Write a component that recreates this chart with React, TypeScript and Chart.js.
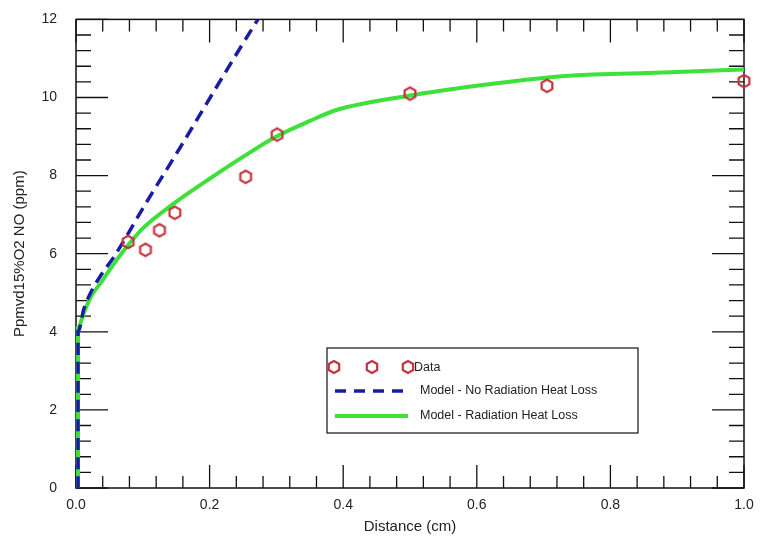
import React, { useEffect, useRef } from "react";
import { Chart, registerables } from "chart.js";
Chart.register(...registerables);

const dataX = [0.078, 0.104, 0.125, 0.148, 0.254, 0.301, 0.5, 0.705, 1.0];
const dataY = [6.3, 6.1, 6.6, 7.05, 7.97, 9.05, 10.1, 10.3, 10.42];

const radX = [0.003, 0.003, 0.011, 0.021, 0.041, 0.055, 0.078, 0.1, 0.146, 0.2, 0.25, 0.3, 0.35, 0.39, 0.5, 0.6, 0.7, 0.75, 0.8, 0.9, 1.0];
const radY = [0, 4.1, 4.45, 4.85, 5.35, 5.7, 6.22, 6.65, 7.28, 7.92, 8.48, 9.0, 9.4, 9.68, 10.05, 10.3, 10.5, 10.57, 10.6, 10.65, 10.72];

const noRadX = [0.003, 0.003, 0.006, 0.011, 0.021, 0.0385, 0.056, 0.106, 0.156, 0.221, 0.2705, 0.28];
const noRadY = [0, 4.0, 4.12, 4.54, 4.97, 5.48, 5.9, 7.33, 8.72, 10.57, 11.95, 12.2];

const xTicks = [0, 0.2, 0.4, 0.6, 0.8, 1.0];
const yTicks = [0, 2, 4, 6, 8, 10, 12];

const legendLabels = ["Data", "Model - No Radiation Heat Loss", "Model - Radiation Heat Loss"];

const RED = "#c2353c";
const BLUE = "#1a1aa6";
const GREEN = "#3ee03a";
const FONT = "'Liberation Sans', Arial, sans-serif";

function makeHex(): HTMLCanvasElement {
  const c = document.createElement("canvas");
  c.width = 18;
  c.height = 18;
  const g = c.getContext("2d")!;
  drawHex(g, 9, 9, 6.2);
  return c;
}

function drawHex(g: CanvasRenderingContext2D, cx: number, cy: number, r: number) {
  g.save();
  g.beginPath();
  for (let i = 0; i < 6; i++) {
    const a = (Math.PI / 3) * i + Math.PI / 2;
    const px = cx + r * Math.cos(a);
    const py = cy + r * Math.sin(a);
    if (i === 0) g.moveTo(px, py);
    else g.lineTo(px, py);
  }
  g.closePath();
  g.strokeStyle = RED;
  g.lineWidth = 2.2;
  g.stroke();
  g.restore();
}

const framePlugin = {
  id: "frameTicks",
  beforeDatasetsDraw(chart: any) {
    const { ctx, chartArea: a, scales } = chart;
    const xs = scales.x;
    const ys = scales.y;
    ctx.save();
    ctx.strokeStyle = "#111";
    ctx.lineWidth = 1.5;
    ctx.strokeRect(a.left, a.top, a.right - a.left, a.bottom - a.top);
    ctx.lineWidth = 1.3;
    ctx.beginPath();
    for (let i = 0; i <= 25; i++) {
      const v = i * 0.04;
      const major = i % 5 === 0;
      const px = xs.getPixelForValue(v);
      const len = major ? 23 : 12;
      ctx.moveTo(px, a.bottom);
      ctx.lineTo(px, a.bottom - len);
      ctx.moveTo(px, a.top);
      ctx.lineTo(px, a.top + len);
    }
    for (let i = 0; i <= 30; i++) {
      const v = i * 0.4;
      const major = i % 5 === 0;
      const py = ys.getPixelForValue(v);
      const len = major ? 32 : 15;
      ctx.moveTo(a.left, py);
      ctx.lineTo(a.left + len, py);
      ctx.moveTo(a.right, py);
      ctx.lineTo(a.right - len, py);
    }
    ctx.stroke();
    ctx.restore();
  },
  afterDraw(chart: any) {
    const { ctx } = chart;
    ctx.save();
    const bx = 327, by = 348, bw = 311, bh = 85;
    ctx.fillStyle = "#fff";
    ctx.fillRect(bx, by, bw, bh);
    ctx.strokeStyle = "#111";
    ctx.lineWidth = 1.2;
    ctx.strokeRect(bx, by, bw, bh);
    drawHex(ctx, 334, 367, 6);
    drawHex(ctx, 372, 367, 6);
    drawHex(ctx, 408, 367, 6);
    ctx.font = "12.5px " + FONT;
    ctx.fillStyle = "#222";
    ctx.textBaseline = "middle";
    ctx.fillText(legendLabels[0], 414, 368);
    ctx.strokeStyle = BLUE;
    ctx.lineWidth = 3.5;
    ctx.setLineDash([11, 8]);
    ctx.beginPath();
    ctx.moveTo(335, 391);
    ctx.lineTo(407, 391);
    ctx.stroke();
    ctx.setLineDash([]);
    ctx.fillText(legendLabels[1], 420, 391);
    ctx.strokeStyle = GREEN;
    ctx.lineWidth = 4;
    ctx.beginPath();
    ctx.moveTo(335, 416);
    ctx.lineTo(408, 416);
    ctx.stroke();
    ctx.fillText(legendLabels[2], 420, 416);
    ctx.restore();
  },
};

export default function App() {
  const ref = useRef<HTMLCanvasElement | null>(null);
  useEffect(() => {
    if (!ref.current) return;
    const hex = makeHex();
    const chart = new Chart(ref.current, {
      type: "scatter",
      data: {
        datasets: [
          {
            label: legendLabels[0],
            data: dataX.map((x, i) => ({ x, y: dataY[i] })),
            pointStyle: hex as any,
            showLine: false,
            clip: false as any,
          },
          {
            label: legendLabels[1],
            data: noRadX.map((x, i) => ({ x, y: noRadY[i] })),
            showLine: true,
            borderColor: BLUE,
            borderWidth: 3.5,
            borderDash: [12, 7],
            pointRadius: 0,
            cubicInterpolationMode: "monotone",
            clip: { left: 6, top: 0, right: 0, bottom: 4 } as any,
          },
          {
            label: legendLabels[2],
            data: radX.map((x, i) => ({ x, y: radY[i] })),
            showLine: true,
            borderColor: GREEN,
            borderWidth: 4,
            pointRadius: 0,
            cubicInterpolationMode: "monotone",
            clip: { left: 6, top: 0, right: 6, bottom: 4 } as any,
          },
        ],
      },
      options: {
        animation: false,
        responsive: true,
        maintainAspectRatio: false,
        layout: { padding: { top: 18, right: 16, left: 0, bottom: 0 } },
        plugins: { legend: { display: false }, tooltip: { enabled: false } },
        scales: {
          x: {
            type: "linear",
            min: 0,
            max: 1,
            afterBuildTicks: (s: any) => {
              s.ticks = xTicks.map((v) => ({ value: v }));
            },
            afterFit: (s: any) => {
              s.height = 49;
            },
            ticks: {
              callback: (v: any) => Number(v).toFixed(1),
              font: { size: 14, family: FONT },
              color: "#222",
              padding: 1,
            },
            grid: { display: false },
            border: { display: false },
            title: {
              display: true,
              text: "Distance (cm)",
              font: { size: 15, family: FONT },
              color: "#222",
              padding: { top: 0, bottom: 1 },
            },
          },
          y: {
            type: "linear",
            min: 0,
            max: 12,
            afterBuildTicks: (s: any) => {
              s.ticks = yTicks.map((v) => ({ value: v }));
            },
            afterFit: (s: any) => {
              s.width = 76;
            },
            ticks: {
              callback: (v: any) => String(v),
              font: { size: 14, family: FONT },
              color: "#222",
              padding: 11,
            },
            grid: { display: false },
            border: { display: false },
            title: {
              display: true,
              text: "Ppmvd15%O2 NO (ppm)",
              font: { size: 15, family: FONT },
              color: "#222",
              padding: { top: 11, bottom: 0 },
            },
          },
        },
      },
      plugins: [framePlugin],
    });
    return () => chart.destroy();
  }, []);
  return (
    <div style={{ position: "fixed", left: 0, top: 0, width: 760, height: 537, background: "#fff" }}>
      <canvas ref={ref} />
    </div>
  );
}
